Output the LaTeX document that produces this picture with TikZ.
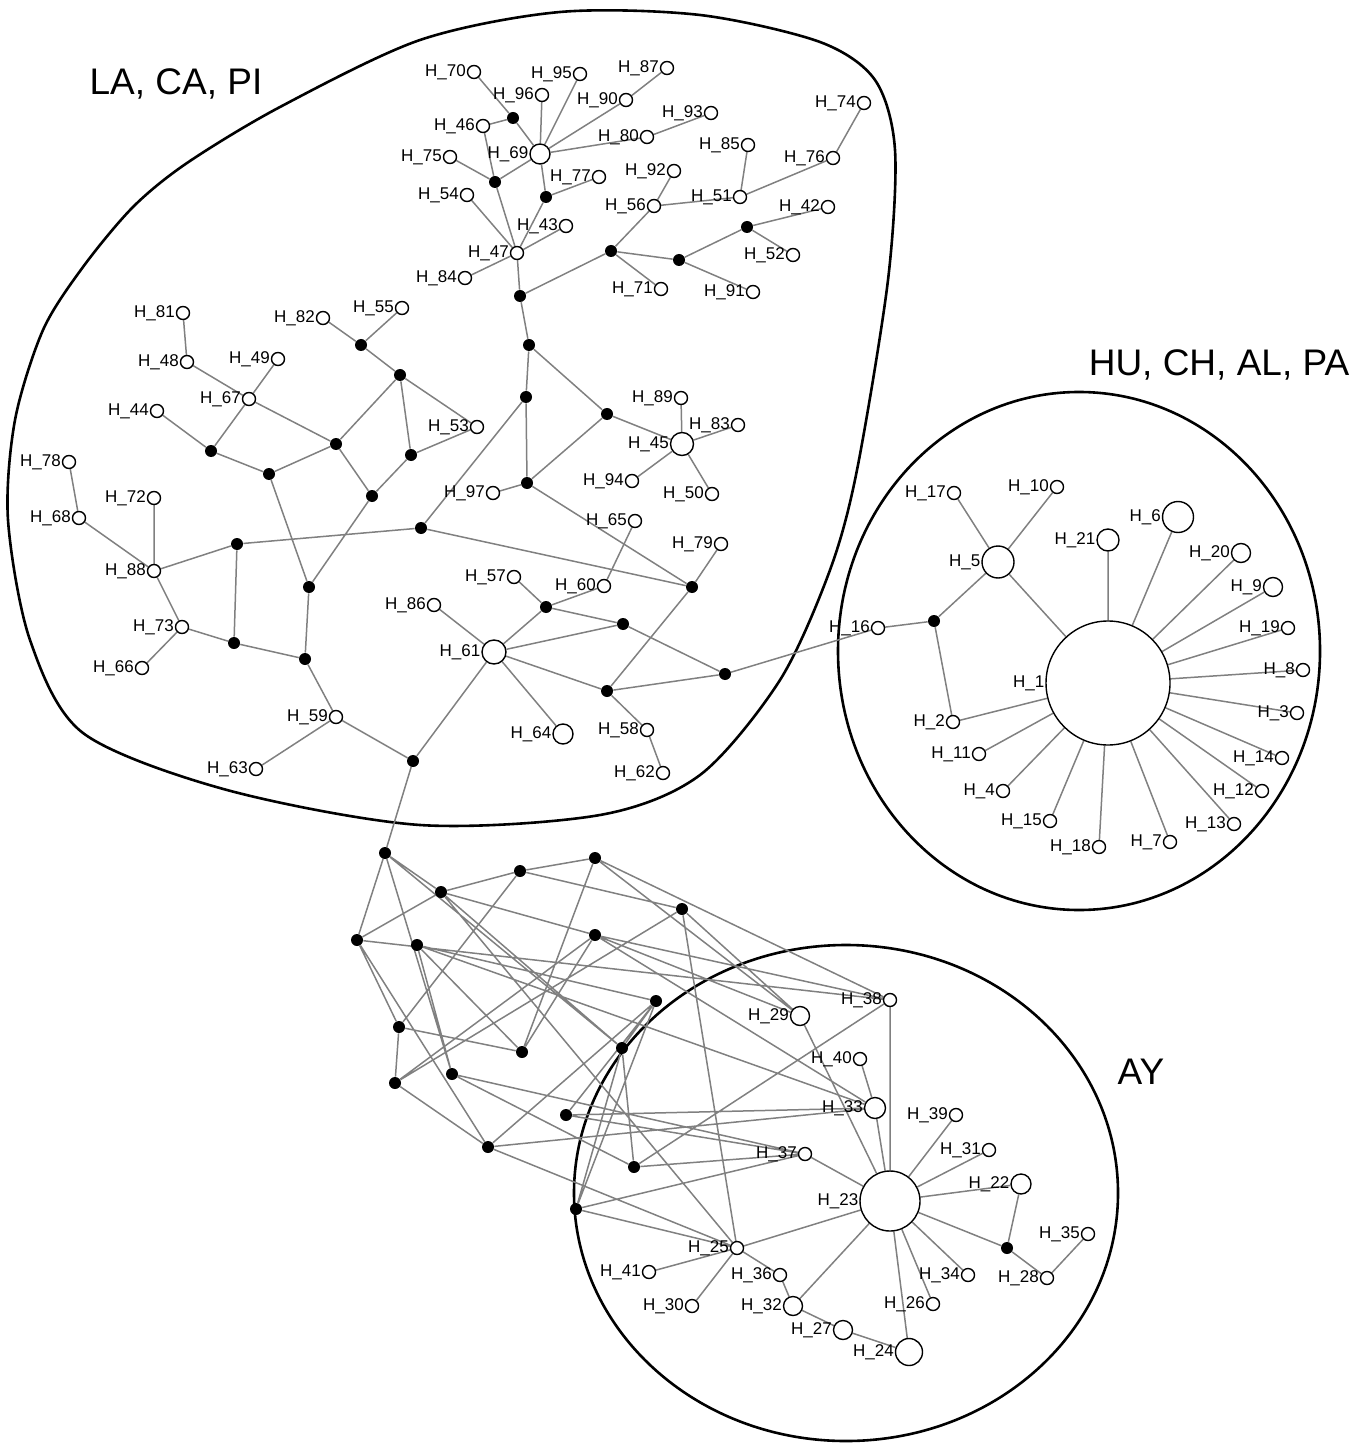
\documentclass[tikz,border=0pt]{standalone}
\usepackage{fontspec}
\setmainfont{Liberation Sans}
\usetikzlibrary{backgrounds}

\begin{document}
\begin{tikzpicture}[
  x=0.5pt,y=-0.5pt,
  % haplotype circle, label set to its left
  hap/.style={circle,draw,line width=0.7pt,fill=white,inner sep=0pt,
              minimum size=6.5pt,label={[lbl]left:H\_#1}},
  mv/.style={circle,fill=black,inner sep=0pt,minimum size=6pt},
  lbl/.style={font=\fontsize{8.5}{9}\selectfont,inner sep=0.3pt},
  link/.style={draw=black!50,line width=0.75pt},
  area/.style={line width=1.3pt},
  grp/.style={font=\fontsize{18.5}{20}\selectfont},
]
\useasboundingbox (0,0) rectangle (1370,1443);

% ------------------------------------------------------------------ group names
\node[grp] (laLbl) at (176,84)   {LA, CA, PI};
\node[grp] (huLbl) at (1219,365) {HU, CH, AL, PA};
\node[grp] (ayLbl) at (1141,1072) {AY};

% ------------------------------------------------------------- LA, CA, PI: top
\node[hap=70] (h70) at (474,72) {};
\node[hap=95] (h95) at (580,74) {};
\node[hap=87] (h87) at (667,68) {};
\node[hap=96] (h96) at (542,95) {};
\node[hap=90] (h90) at (626,100) {};
\node[mv]     (m1)  at (513,118) {};
\node[hap=46] (h46) at (483,126) {};
\node[hap=93] (h93) at (711,113) {};
\node[hap=74] (h74) at (864,103) {};
\node[hap=69,minimum size=10pt] (h69) at (540,154) {};
\node[hap=80] (h80) at (647,137) {};
\node[hap=85] (h85) at (748,145) {};
\node[hap=75] (h75) at (450,157) {};
\node[hap=76] (h76) at (833,158) {};
\node[hap=92] (h92) at (674,171) {};
\node[mv]     (m2)  at (495,182) {};
\node[hap=77] (h77) at (599,177) {};
\node[mv]     (m3)  at (546,197) {};
\node[hap=54] (h54) at (467,195) {};
\node[hap=56] (h56) at (654,206) {};
\node[hap=51] (h51) at (740,197) {};
\node[hap=42] (h42) at (828,207) {};
\node[mv]     (m4)  at (747,227) {};
\node[hap=43] (h43) at (566,226) {};
\node[hap=47] (h47) at (517,253) {};
\node[mv]     (m5)  at (611,251) {};
\node[mv]     (m6)  at (679,260) {};
\node[hap=52] (h52) at (793,255) {};
\node[hap=84] (h84) at (465,278) {};
\node[hap=71] (h71) at (661,289) {};
\node[hap=91] (h91) at (753,292) {};
\node[mv]     (m7)  at (520,296) {};

% ------------------------------------------------------------ LA, CA, PI: left
\node[hap=81] (h81) at (183,313) {};
\node[hap=55] (h55) at (402,308) {};
\node[hap=82] (h82) at (323,318) {};
\node[mv]     (m8)  at (361,345) {};
\node[hap=48] (h48) at (187,362) {};
\node[hap=49] (h49) at (278,359) {};
\node[mv]     (m9)  at (400,375) {};
\node[hap=67] (h67) at (249,399) {};
\node[hap=44] (h44) at (157,411) {};
\node[hap=53] (h53) at (477,427) {};
\node[mv]     (m10) at (211,451) {};
\node[mv]     (m11) at (336,444) {};
\node[mv]     (m12) at (411,455) {};
\node[hap=78] (h78) at (69,462) {};
\node[mv]     (m13) at (269,474) {};
\node[mv]     (m14) at (372,496) {};
\node[hap=72] (h72) at (154,498) {};
\node[hap=68] (h68) at (79,518) {};
\node[mv]     (m15) at (421,528) {};
\node[mv]     (m16) at (237,544) {};
\node[hap=88] (h88) at (154,571) {};
\node[mv]     (m17) at (309,587) {};
\node[hap=73] (h73) at (182,627) {};
\node[mv]     (m18) at (234,643) {};
\node[hap=66] (h66) at (142,668) {};
\node[mv]     (m19) at (305,659) {};
\node[hap=59] (h59) at (336,717) {};
\node[mv]     (m20) at (413,761) {};
\node[hap=63] (h63) at (256,769) {};

% ---------------------------------------------------------- LA, CA, PI: middle
\node[mv]     (m21) at (529,345) {};
\node[mv]     (m22) at (526,397) {};
\node[mv]     (m23) at (607,414) {};
\node[hap=89] (h89) at (681,398) {};
\node[hap=83] (h83) at (738,425) {};
\node[hap=45,minimum size=11.5pt] (h45) at (682,444) {};
\node[hap=94] (h94) at (632,481) {};
\node[hap=50] (h50) at (712,494) {};
\node[mv]     (m24) at (527,483) {};
\node[hap=97] (h97) at (493,493) {};
\node[hap=65] (h65) at (635,521) {};
\node[hap=79] (h79) at (721,544) {};
\node[mv]     (m25) at (692,587) {};
\node[hap=57] (h57) at (514,577) {};
\node[hap=60] (h60) at (604,586) {};
\node[hap=86] (h86) at (434,605) {};
\node[mv]     (m26) at (546,607) {};
\node[mv]     (m27) at (623,624) {};
\node[hap=61,minimum size=12pt] (h61) at (494,652) {};
\node[mv]     (m28) at (725,674) {};
\node[mv]     (m29) at (607,691) {};
\node[hap=64,minimum size=10pt] (h64) at (563,734) {};
\node[hap=58] (h58) at (647,730) {};
\node[hap=62] (h62) at (663,773) {};

% ------------------------------------------------------------ HU, CH, AL, PA
\node[hap=17] (h17) at (954,493) {};
\node[hap=10] (h10) at (1057,487) {};
\node[hap=21,minimum size=11pt] (h21) at (1108,540) {};
\node[hap=6,minimum size=15.5pt] (h6) at (1178,517) {};
\node[hap=20,minimum size=9.5pt] (h20) at (1241,553) {};
\node[hap=5,minimum size=16pt] (h5) at (998,562) {};
\node[hap=9,minimum size=9.5pt] (h9) at (1273,587) {};
\node[hap=16] (h16) at (878,628) {};
\node[mv]     (m30) at (934,621) {};
\node[hap=19] (h19) at (1288,628) {};
\node[hap=8]  (h8)  at (1303,670) {};
\node[hap=1,minimum size=62pt] (h1) at (1108,683) {};
\node[hap=3]  (h3)  at (1297,713) {};
\node[hap=2]  (h2)  at (953,722) {};
\node[hap=11] (h11) at (979,754) {};
\node[hap=14] (h14) at (1282,758) {};
\node[hap=12] (h12) at (1262,791) {};
\node[hap=4]  (h4)  at (1003,791) {};
\node[hap=15] (h15) at (1050,821) {};
\node[hap=13] (h13) at (1234,824) {};
\node[hap=18] (h18) at (1099,847) {};
\node[hap=7]  (h7)  at (1170,842) {};

% ------------------------------------------------------- median vectors, tangle
\node[mv] (tA) at (385,853) {};
\node[mv] (tB) at (520,871) {};
\node[mv] (tC) at (595,858) {};
\node[mv] (tD) at (441,892) {};
\node[mv] (tE) at (682,909) {};
\node[mv] (tF) at (357,940) {};
\node[mv] (tG) at (417,945) {};
\node[mv] (tH) at (595,935) {};
\node[mv] (tI) at (656,1001) {};
\node[mv] (tJ) at (399,1027) {};
\node[mv] (tK) at (522,1052) {};
\node[mv] (tL) at (622,1048) {};
\node[mv] (tM) at (395,1083) {};
\node[mv] (tN) at (452,1074) {};
\node[mv] (tO) at (566,1115) {};
\node[mv] (tP) at (488,1147) {};
\node[mv] (tQ) at (634,1167) {};
\node[mv] (tR) at (576,1209) {};

% -------------------------------------------------------------------------- AY
\node[hap=38] (h38) at (890,1000) {};
\node[hap=29,minimum size=9.5pt] (h29) at (800,1016) {};
\node[hap=40] (h40) at (860,1059) {};
\node[hap=33,minimum size=10.5pt] (h33) at (875,1108) {};
\node[hap=39] (h39) at (956,1115) {};
\node[hap=31] (h31) at (989,1150) {};
\node[hap=22,minimum size=10pt] (h22) at (1021,1184) {};
\node[hap=37] (h37) at (805,1154) {};
\node[hap=23,minimum size=30pt] (h23) at (890,1201) {};
\node[hap=35] (h35) at (1088,1234) {};
\node[mv]     (m31) at (1007,1248) {};
\node[hap=28] (h28) at (1047,1278) {};
\node[hap=25] (h25) at (737,1248) {};
\node[hap=41] (h41) at (649,1272) {};
\node[hap=36] (h36) at (780,1275) {};
\node[hap=34] (h34) at (968,1275) {};
\node[hap=30] (h30) at (692,1306) {};
\node[hap=32,minimum size=9.5pt] (h32) at (793,1306) {};
\node[hap=26] (h26) at (933,1304) {};
\node[hap=27,minimum size=9.5pt] (h27) at (843,1330) {};
\node[hap=24,minimum size=13.5pt] (h24) at (909,1352) {};

\begin{scope}[on background layer]
  % group outlines
  \draw[area] plot[smooth cycle] coordinates {
    (8,520) (15,420) (43,330) (83,267) (133,207) (187,163) (280,107)
    (420,40) (560,12) (700,15) (820,42) (875,80) (895,150) (888,280)
    (857,470) (830,570) (780,680) (700,775) (600,815) (420,825) (227,790)
    (83,733) (30,640)};
  \draw[area] (1079,651) ellipse [x radius=120.5pt,y radius=129.5pt];
  \draw[area] (846,1193) ellipse [x radius=136pt,y radius=124pt];

  % LA, CA, PI
  \draw[link] (h70) -- (m1) (h46) -- (m1) (m1) -- (h69) (h96) -- (h69)
    (h95) -- (h69) (h90) -- (h69) (h87) -- (h90) (h80) -- (h69) (h93) -- (h80)
    (h69) -- (m2) (h46) -- (m2) (h75) -- (m2) (m2) -- (h47) (h69) -- (m3)
    (m3) -- (h77) (m3) -- (h47) (h54) -- (h47) (h43) -- (h47) (h84) -- (h47)
    (h47) -- (m7) (m7) -- (m5) (m5) -- (h56) (h56) -- (h92) (h56) -- (h51)
    (h51) -- (h85) (h51) -- (h76) (h76) -- (h74) (m5) -- (h71) (m5) -- (m6)
    (m6) -- (m4) (m4) -- (h42) (m4) -- (h52) (m6) -- (h91);
  \draw[link] (m7) -- (m21) (m21) -- (m22) (m21) -- (m23) (m22) -- (m15)
    (m22) -- (m24) (m23) -- (m24) (m23) -- (h45) (h89) -- (h45) (h83) -- (h45)
    (h94) -- (h45) (h50) -- (h45) (m24) -- (h97) (m24) -- (m25) (m15) -- (m25)
    (h65) -- (h60) (h79) -- (m25) (m25) -- (m29) (h57) -- (m26) (m26) -- (h60)
    (m26) -- (h61) (m26) -- (m27) (m27) -- (h61) (m27) -- (m28) (h61) -- (m29)
    (m29) -- (m28) (m28) -- (h16) (m29) -- (h58) (h58) -- (h62) (h61) -- (h64)
    (h86) -- (h61) (h61) -- (m20) (h59) -- (m20) (m20) -- (tA);
  \draw[link] (h81) -- (h48) (h48) -- (h67) (h49) -- (h67) (h67) -- (m10)
    (h67) -- (m11) (h44) -- (m10) (m10) -- (m13) (m13) -- (m11) (m11) -- (m9)
    (m11) -- (m14) (m9) -- (m8) (m8) -- (h82) (m8) -- (h55) (m9) -- (m12)
    (m9) -- (h53) (m12) -- (h53) (m12) -- (m14) (m14) -- (m17) (m13) -- (m17)
    (m17) -- (m19) (m19) -- (m18) (m18) -- (m16) (m16) -- (h88) (m16) -- (m15)
    (h78) -- (h68) (h68) -- (h88) (h72) -- (h88) (h88) -- (h73) (h73) -- (h66)
    (h73) -- (m18) (m19) -- (h59) (h59) -- (h63);

  % HU, CH, AL, PA
  \draw[link] (h17) -- (h5) (h10) -- (h5) (h5) -- (h1) (h5) -- (m30)
    (m30) -- (h16) (m30) -- (h2) (h2) -- (h1) (h21) -- (h1) (h6) -- (h1)
    (h20) -- (h1) (h9) -- (h1) (h19) -- (h1) (h8) -- (h1) (h3) -- (h1)
    (h14) -- (h1) (h12) -- (h1) (h13) -- (h1) (h7) -- (h1) (h18) -- (h1)
    (h15) -- (h1) (h4) -- (h1) (h11) -- (h1);

  % tangle of median vectors between LA and AY
  \draw[link] (tA) -- (tF) (tA) -- (tD) (tA) -- (tN) (tA) -- (tL)
    (tF) -- (tD) (tF) -- (tJ) (tF) -- (tP) (tF) -- (h38)
    (tD) -- (tB) (tD) -- (tH) (tD) -- (tL) (tD) -- (h25)
    (tG) -- (tN) (tG) -- (tK) (tG) -- (h33) (tG) -- (tI)
    (tB) -- (tC) (tB) -- (tE) (tB) -- (tJ)
    (tC) -- (tK) (tC) -- (h38) (tC) -- (h29)
    (tE) -- (tM) (tE) -- (h25) (tE) -- (h29)
    (tH) -- (tK) (tH) -- (tM) (tH) -- (h38) (tH) -- (h33) (tH) -- (h29)
    (tJ) -- (tK) (tJ) -- (tM) (tM) -- (tP)
    (tN) -- (tQ) (tN) -- (h37) (tI) -- (tR) (tI) -- (tO) (tI) -- (tL)
    (tL) -- (tR) (tL) -- (tQ) (tO) -- (h33) (tO) -- (h37)
    (tP) -- (tI) (tP) -- (h33) (tP) -- (h25) (tQ) -- (h38) (tQ) -- (h37)
    (tR) -- (h37) (tR) -- (h25);

  % AY
  \draw[link] (h38) -- (h23) (h29) -- (h23) (h40) -- (h33) (h33) -- (h23)
    (h37) -- (h23) (h39) -- (h23) (h31) -- (h23) (h22) -- (h23) (h23) -- (m31)
    (m31) -- (h22) (m31) -- (h28) (h28) -- (h35) (h34) -- (h23) (h26) -- (h23)
    (h24) -- (h23) (h23) -- (h32) (h23) -- (h25) (h25) -- (h41) (h25) -- (h30)
    (h25) -- (h36) (h36) -- (h32) (h32) -- (h27) (h27) -- (h24);
\end{scope}

\end{tikzpicture}
\end{document}
